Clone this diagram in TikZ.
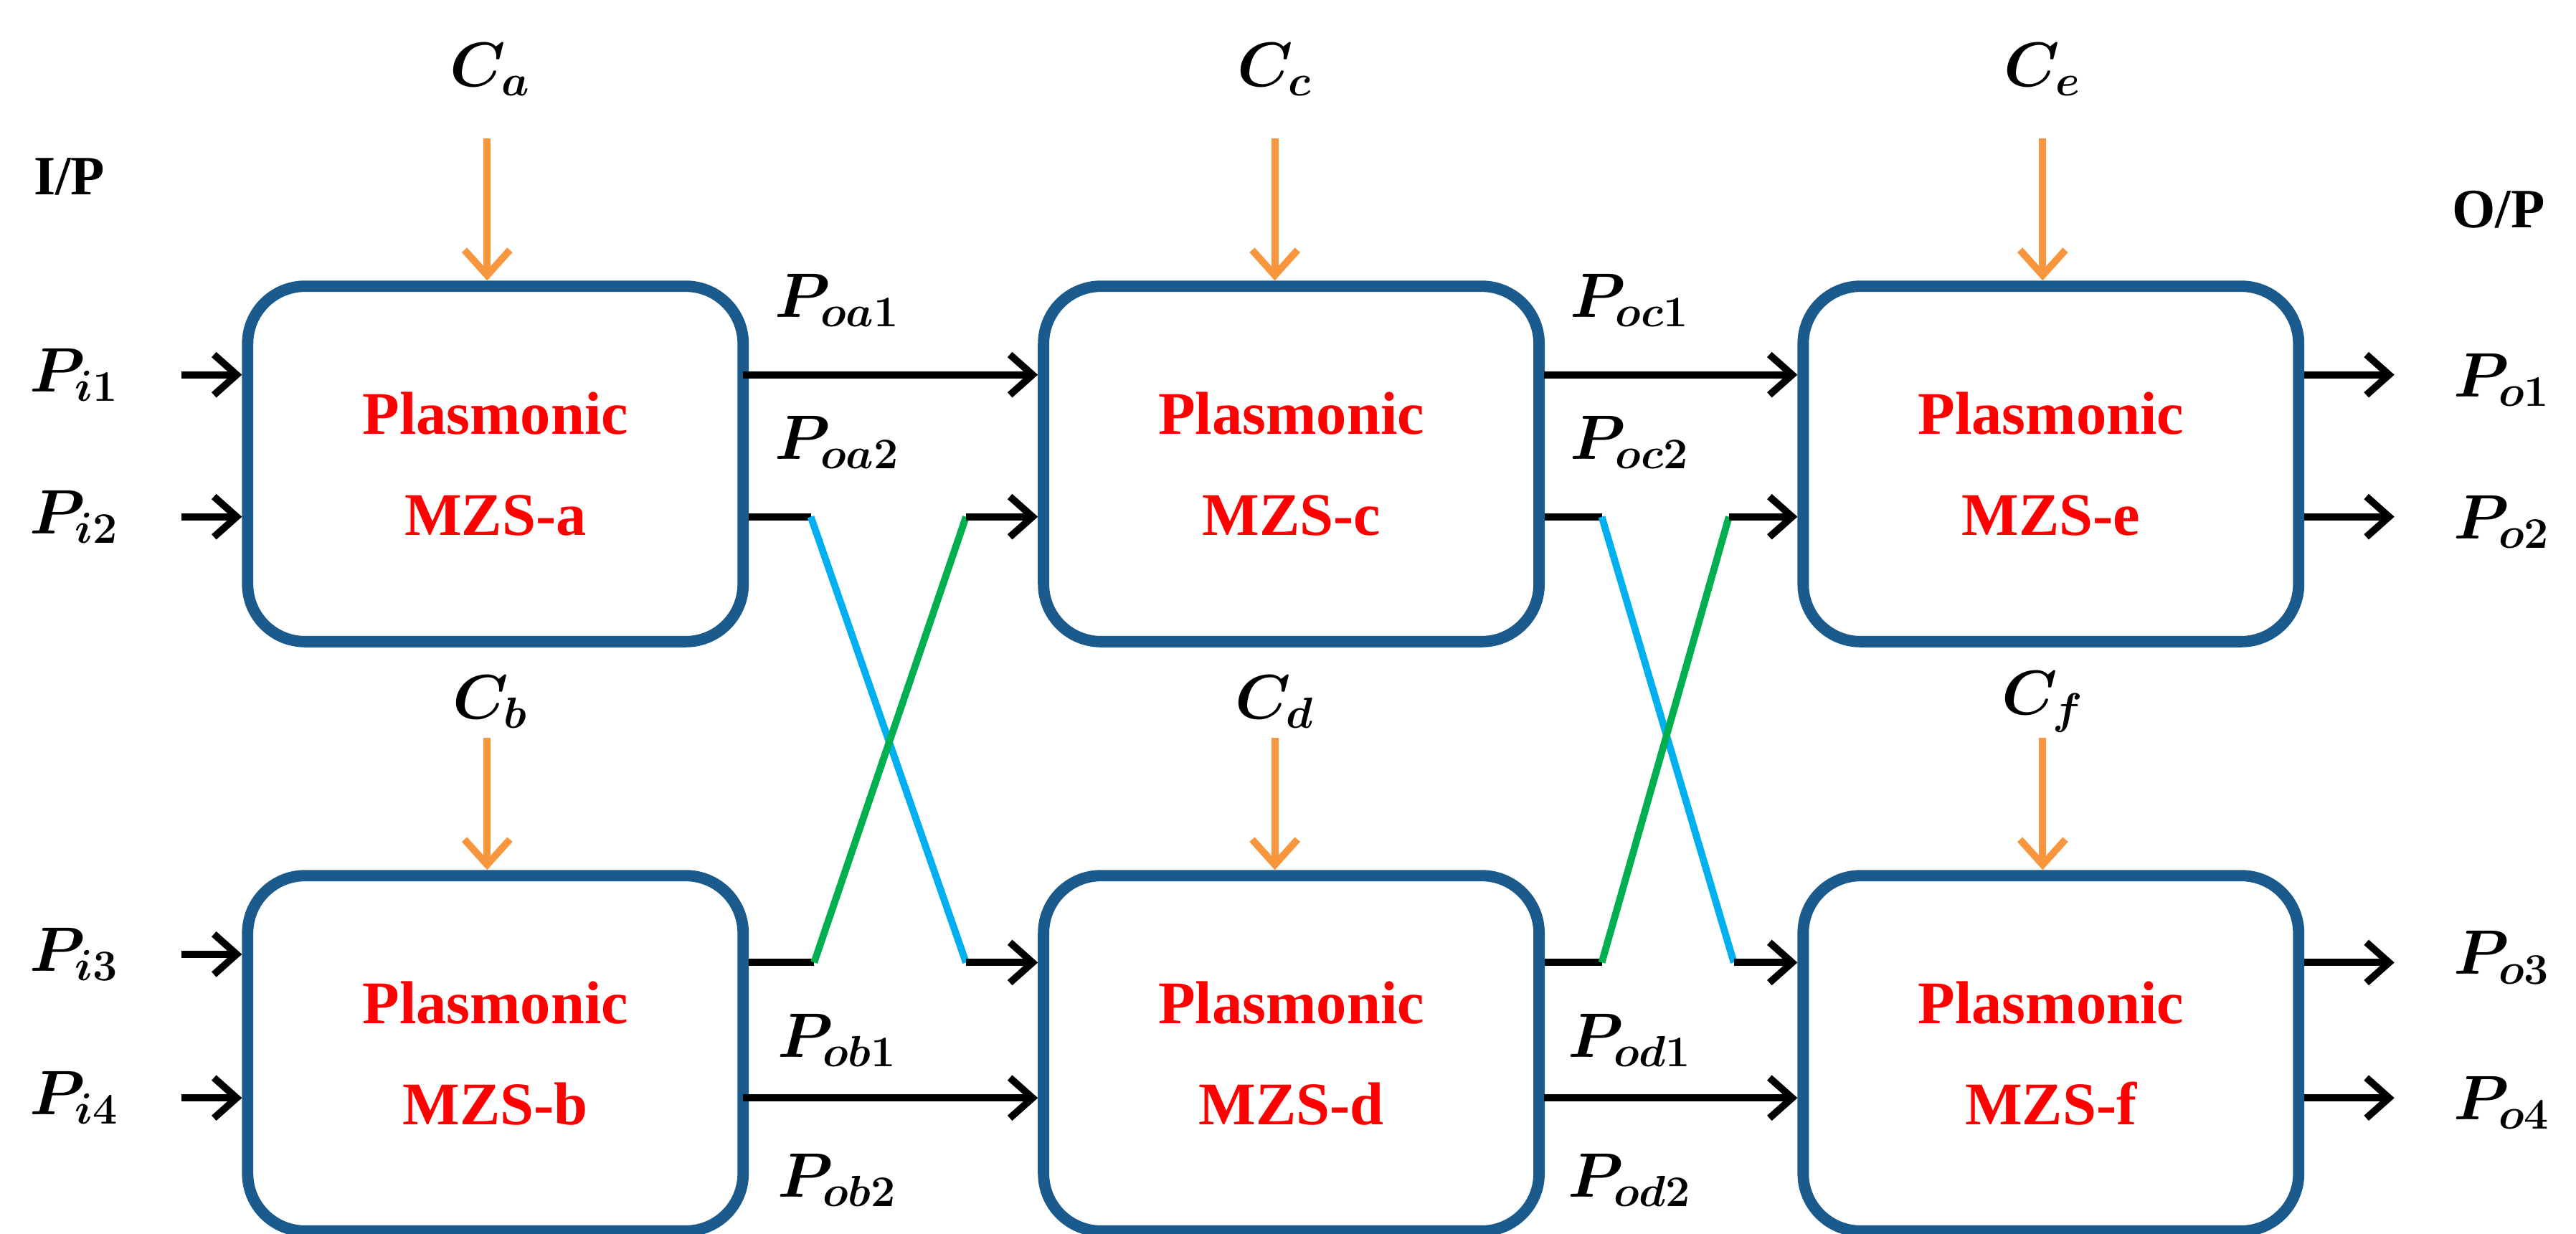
\documentclass[tikz,border=0pt]{standalone}
\usepackage{fontspec}
\setmainfont{Liberation Serif}
\usepackage{amsmath}
\usetikzlibrary{arrows.meta}
\definecolor{boxblue}{HTML}{1B5A8C}
\definecolor{ctrl}{HTML}{F7963C}
\definecolor{cyanl}{HTML}{00B0F0}
\definecolor{greenl}{HTML}{00B050}
\begin{document}
\begin{tikzpicture}[x=0.023cm,y=-0.023cm,
  blk/.style={draw=boxblue,line width=4.5pt,rounded corners=0.8cm,minimum width=6.9cm,minimum height=4.95cm,inner sep=0pt,align=center,text=red,font=\fontsize{24}{40}\selectfont\bfseries},
  sig/.style={black,line width=2.8pt,-{Straight Barb[length=9pt,width=16pt,line width=2.8pt]}},
  stub/.style={black,line width=2.8pt},
  ctl/.style={ctrl,line width=2.8pt,-{Straight Barb[length=10pt,width=18pt,line width=2.8pt]}},
  lab/.style={font=\fontsize{24}{28}\selectfont\boldmath},
  hd/.style={font=\fontsize{22}{26}\selectfont\bfseries}]
\useasboundingbox (0,0) rectangle (1560,747);
\node[blk] (A) at (300,281) {Plasmonic\\MZS-a};
\node[blk] (C) at (782,281) {Plasmonic\\MZS-c};
\node[blk] (E) at (1242,281) {Plasmonic\\MZS-e};
\node[blk] (B) at (300,638) {Plasmonic\\MZS-b};
\node[blk] (D) at (782,638) {Plasmonic\\MZS-d};
\node[blk] (F) at (1242,638) {Plasmonic\\MZS-f};
% controls
\node[lab] (ca) at (297,42) {$C_a$};
\node[lab] (cc) at (772,42) {$C_c$};
\node[lab] (ce) at (1237,42) {$C_e$};
\node[lab] (cb) at (297,425) {$C_b$};
\node[lab] (cd) at (772,425) {$C_d$};
\node[lab] (cf) at (1237,425) {$C_f$};
\foreach \n/\x/\y in {a/295/84,c/772/84,e/1237/84,b/295/447,d/772/447,f/1237/447}{
  \coordinate (k\n) at (\x,\y);
}
\draw[ctl] (ka) -- (ka|-A.north);
\draw[ctl] (kc) -- (kc|-C.north);
\draw[ctl] (ke) -- (ke|-E.north);
\draw[ctl] (kb) -- (kb|-B.north);
\draw[ctl] (kd) -- (kd|-D.north);
\draw[ctl] (kf) -- (kf|-F.north);
\node[hd] (ip) at (42,107) {I/P};
\node[hd] (op) at (1513,127) {O/P};
% inputs
\node[lab] (pi1) at (45,227) {$P_{i1}$};
\node[lab] (pi2) at (45,313) {$P_{i2}$};
\node[lab] (pi3) at (45,578) {$P_{i3}$};
\node[lab] (pi4) at (45,665) {$P_{i4}$};
\foreach \y/\n in {227/1,313/2,578/3,665/4}{\coordinate (in\n) at (110,\y);}
\draw[sig] (in1) -- (in1-|A.west);
\draw[sig] (in2) -- (in2-|A.west);
\draw[sig] (in3) -- (in3-|B.west);
\draw[sig] (in4) -- (in4-|B.west);
% stage 1
\coordinate (t1) at (450,227);
\draw[sig] (t1) -- (t1-|C.west);
\coordinate (sa) at (491,313);
\coordinate (sb) at (493,583);
\coordinate (ja) at (585,583);
\coordinate (jb) at (585,313);
\draw[stub] (sa-|A.east) -- (sa);
\draw[stub] (sb-|B.east) -- (sb);
\draw[cyanl,line width=2.8pt] (sa) -- (ja);
\draw[greenl,line width=2.8pt] (sb) -- (jb);
\draw[sig] (ja) -- (ja-|D.west);
\draw[sig] (jb) -- (jb-|C.west);
\coordinate (t2) at (450,665);
\draw[sig] (t2) -- (t2-|D.west);
\node[lab] (poa1) at (507,182) {$P_{oa1}$};
\node[lab] (poa2) at (507,268) {$P_{oa2}$};
\node[lab] (pob1) at (507,630) {$P_{ob1}$};
\node[lab] (pob2) at (507,715) {$P_{ob2}$};
% stage 2
\coordinate (u1) at (935,227);
\draw[sig] (u1) -- (u1-|E.west);
\coordinate (sc) at (970,313);
\coordinate (sd) at (970,583);
\coordinate (jc) at (1050,583);
\coordinate (jd) at (1047,313);
\draw[stub] (sc-|C.east) -- (sc);
\draw[stub] (sd-|D.east) -- (sd);
\draw[cyanl,line width=2.8pt] (sc) -- (jc);
\draw[greenl,line width=2.8pt] (sd) -- (jd);
\draw[sig] (jc) -- (jc-|F.west);
\draw[sig] (jd) -- (jd-|E.west);
\coordinate (u2) at (935,665);
\draw[sig] (u2) -- (u2-|F.west);
\node[lab] (poc1) at (987,182) {$P_{oc1}$};
\node[lab] (poc2) at (987,268) {$P_{oc2}$};
\node[lab] (pod1) at (987,630) {$P_{od1}$};
\node[lab] (pod2) at (987,715) {$P_{od2}$};
% outputs
\node[lab] (po1) at (1515,230) {$P_{o1}$};
\node[lab] (po2) at (1515,316) {$P_{o2}$};
\node[lab] (po3) at (1515,580) {$P_{o3}$};
\node[lab] (po4) at (1515,668) {$P_{o4}$};
\foreach \y/\n in {227/1,313/2,583/3,665/4}{\coordinate (o\n) at (1450,\y);}
\draw[sig] (o1-|E.east) -- (o1);
\draw[sig] (o2-|E.east) -- (o2);
\draw[sig] (o3-|F.east) -- (o3);
\draw[sig] (o4-|F.east) -- (o4);
\end{tikzpicture}
\end{document}
